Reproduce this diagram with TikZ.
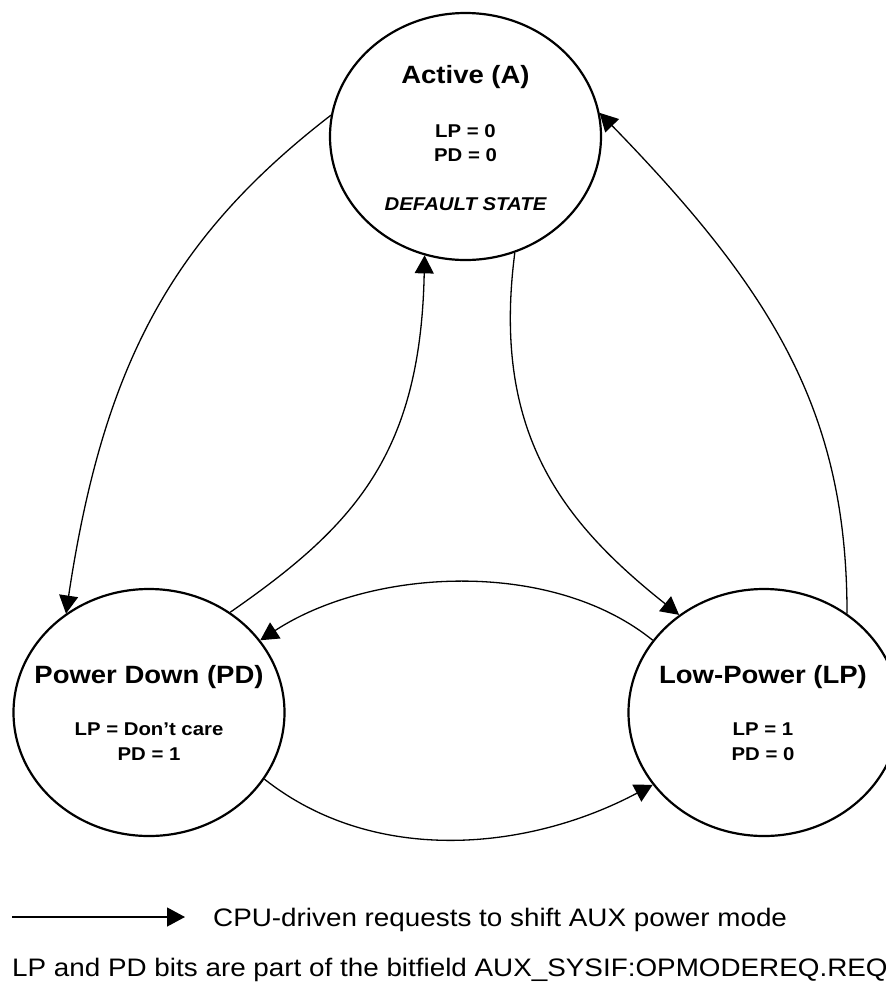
\documentclass[tikz,border=0pt]{standalone}
\usepackage{fontspec}
\setmainfont{Liberation Sans}[FakeStretch=1.1]
\usetikzlibrary{shapes.geometric,arrows.meta}
\begin{document}
\begin{tikzpicture}[x=1pt,y=-1pt,
  state/.style={ellipse, draw, line width=2.2pt, inner sep=0pt, minimum width=271pt, minimum height=247pt},
  conn/.style={line width=1.3pt, -{Triangle[length=18pt,width=19pt]}},
  ttl/.style={anchor=base, font=\fontsize{25}{30}\selectfont\bfseries, inner sep=0pt},
  val/.style={anchor=base, font=\fontsize{18.5}{22}\selectfont\bfseries, inner sep=0pt},
  leg/.style={anchor=base west, font=\fontsize{25.3}{30}\selectfont, inner sep=0pt}]
\useasboundingbox (0,0) rectangle (886,989);
\fill[white] (0,0) rectangle (886,989);

\node[state] (A) at (465.5,136.5) {};
\node[state] (PD) at (149,712.5) {};
\node[state] (LP) at (764,712.5) {};

\node[ttl] (At) at (465.5,83) {Active (A)};
\node[val] (A1) at (465.5,137) {LP = 0};
\node[val] (A2) at (465.5,161) {PD = 0};
\node[val, font=\fontsize{18.5}{22}\selectfont\bfseries\itshape] (A3) at (465.5,210) {DEFAULT STATE};

\node[ttl] (PDt) at (149,683) {Power Down (PD)};
\node[val] (PD1) at (149,735) {LP = Don’t care};
\node[val] (PD2) at (149,760) {PD = 1};

\node[ttl] (LPt) at (763,683) {Low-Power (LP)};
\node[val] (LP1) at (763,735) {LP = 1};
\node[val] (LP2) at (763,760) {PD = 0};

% connectors
\draw[conn] (A.171) .. controls +(-158,122) and +(37.5,-250) .. (PD.130);
\draw[conn] (PD.51) .. controls +(123,-85.5) and +(-4,200) .. (A.251);
\draw[conn] (A.293) .. controls +(-23.4,180) and +(-117,-93) .. (LP.131);
\draw[conn] (LP.50) .. controls +(0,-200) and +(175,180) .. (A.10);
\draw[conn] (LP.147.5) .. controls +(-102,-82.5) and +(110,-72) .. (PD.33);
\draw[conn] (PD.-30.6) .. controls +(110,87) and +(-124,66) .. (LP.213);

% legend
\coordinate (L0) at (12,917);
\coordinate (L1) at (185,917);
\draw[conn] (L0) -- (L1);
\node[leg] (leg1) at (213,926) {CPU-driven requests to shift AUX power mode};
\node[leg] (leg2) at (12,976) {LP and PD bits are part of the bitfield AUX\_SYSIF:OPMODEREQ.REQ};
\end{tikzpicture}
\end{document}
